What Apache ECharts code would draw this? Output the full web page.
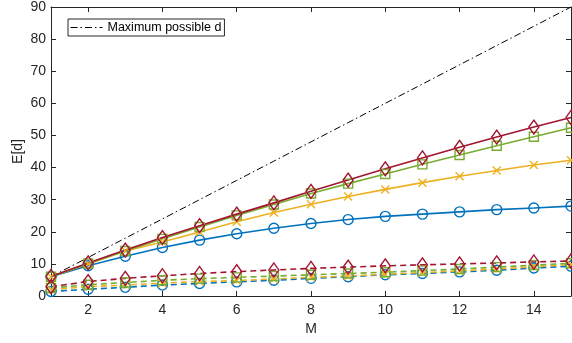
<!DOCTYPE html>
<html>
<head>
<meta charset="utf-8">
<script src="https://cdn.jsdelivr.net/npm/echarts@6/dist/echarts.min.js"></script>
<style>
  html, body { margin: 0; padding: 0; background: #ffffff; }
  #chart { width: 572px; height: 343px; }
</style>
</head>
<body>
<div id="chart"></div>
<script>
// Number of antennas / candidates M along the x axis
const mValues = [1, 2, 3, 4, 5, 6, 7, 8, 9, 10, 11, 12, 13, 14, 15];

// Upper bound on d
const maxPossibleD = [6, 12, 18, 24, 30, 36, 42, 48, 54, 60, 66, 72, 78, 84, 90];

// Solid curves
const solidBlue   = [6.0, 9.4, 12.4, 15.1, 17.4, 19.4, 21.1, 22.6, 23.8, 24.8, 25.5, 26.2, 26.9, 27.4, 28.0];
const solidYellow = [6.0, 10.0, 14.0, 16.8, 19.9, 23.1, 26.0, 28.6, 31.0, 33.2, 35.3, 37.3, 39.1, 40.8, 42.3];
const solidGreen  = [6.0, 10.1, 14.0, 17.8, 21.5, 25.1, 28.5, 31.9, 35.0, 38.0, 41.0, 43.9, 46.8, 49.6, 52.4];
const solidRed    = [6.1, 10.3, 14.3, 18.2, 21.9, 25.5, 29.0, 32.6, 36.1, 39.6, 43.0, 46.3, 49.5, 52.6, 55.6];

// Dashed curves
const dashedBlue   = [1.4, 2.1, 2.7, 3.4, 3.9, 4.4, 4.9, 5.5, 6.0, 6.6, 7.0, 7.5, 8.0, 8.7, 9.3];
const dashedYellow = [2.0, 2.9, 3.4, 4.0, 4.5, 4.8, 5.3, 5.8, 6.2, 6.8, 7.3, 7.8, 8.4, 9.1, 9.8];
const dashedGreen  = [2.5, 3.5, 4.2, 4.9, 5.4, 5.8, 6.2, 6.6, 7.0, 7.4, 7.9, 8.4, 9.0, 9.6, 10.2];
const dashedRed    = [2.9, 4.5, 5.5, 6.3, 7.0, 7.6, 8.1, 8.6, 9.0, 9.4, 9.7, 10.0, 10.3, 10.6, 10.9];

// Axis tick labels
const xTicks = [2, 4, 6, 8, 10, 12, 14];
const yTicks = [0, 10, 20, 30, 40, 50, 60, 70, 80, 90];

const AXIS_COLOR = '#262626';
const FONT = '"Liberation Sans", Arial, Helvetica, sans-serif';

const BLUE = '#0072BD';
const YELLOW = '#EDB120';
const GREEN = '#77AC30';
const RED = '#A2142F';

const CROSS = 'path://M0,0L10,10M0,10L10,0';
const DASH_DOT = [7, 3, 1.5, 3];

function pairs(ys) {
  return mValues.map((m, i) => [m, ys[i]]);
}

function curve(ys, color, symbol, size, dashed) {
  return {
    type: 'line',
    data: pairs(ys),
    symbol: symbol,
    symbolSize: size,
    showAllSymbol: true,
    clip: false,
    lineStyle: { color: color, width: 1.6, type: dashed ? [6, 4] : 'solid' },
    itemStyle: { color: 'rgba(0,0,0,0)', borderColor: color, borderWidth: 1.4 },
    emphasis: { disabled: true },
    animation: false
  };
}

const chart = echarts.init(document.getElementById('chart'), null, { renderer: 'canvas' });

chart.setOption({
  backgroundColor: '#ffffff',
  animation: false,
  grid: { left: 51, right: 1, top: 7, bottom: 47, containLabel: false },
  legend: {
    data: [{
      name: 'Maximum possible d',
      itemStyle: { opacity: 0 },
      lineStyle: { color: '#000000', width: 1, type: DASH_DOT, opacity: 1 }
    }],
    left: 68,
    top: 19,
    orient: 'vertical',
    backgroundColor: '#ffffff',
    borderColor: AXIS_COLOR,
    borderWidth: 1,
    padding: [2, 3, 2, 2],
    itemWidth: 32,
    itemHeight: 14,
    textStyle: { fontFamily: FONT, fontSize: 12.5, color: '#000000' },
    selectedMode: false
  },
  xAxis: [
    {
      type: 'value',
      min: 1,
      max: 15,
      name: 'M',
      nameLocation: 'middle',
      nameGap: 26,
      nameTextStyle: { fontFamily: FONT, fontSize: 14, color: AXIS_COLOR },
      axisLine: { show: true, onZero: false, lineStyle: { color: AXIS_COLOR, width: 1 } },
      axisTick: { show: true, inside: true, length: 5, customValues: xTicks, lineStyle: { color: AXIS_COLOR } },
      axisLabel: { show: true, customValues: xTicks, margin: 7, fontFamily: FONT, fontSize: 14, color: AXIS_COLOR },
      splitLine: { show: false }
    },
    {
      type: 'value',
      position: 'top',
      min: 1,
      max: 15,
      axisLine: { show: true, onZero: false, lineStyle: { color: AXIS_COLOR, width: 1 } },
      axisTick: { show: true, inside: true, length: 5, customValues: xTicks, lineStyle: { color: AXIS_COLOR } },
      axisLabel: { show: false },
      splitLine: { show: false }
    }
  ],
  yAxis: [
    {
      type: 'value',
      min: 0,
      max: 90,
      interval: 10,
      name: 'E[d]',
      nameLocation: 'middle',
      nameGap: 26,
      nameMoveOverlap: false,
      nameTextStyle: { fontFamily: FONT, fontSize: 14, color: AXIS_COLOR },
      axisLine: { show: true, onZero: false, lineStyle: { color: AXIS_COLOR, width: 1 } },
      axisTick: { show: true, inside: true, length: 5, customValues: yTicks, lineStyle: { color: AXIS_COLOR } },
      axisLabel: { show: true, customValues: yTicks, margin: 5, fontFamily: FONT, fontSize: 14, color: AXIS_COLOR },
      splitLine: { show: false }
    },
    {
      type: 'value',
      position: 'right',
      min: 0,
      max: 90,
      interval: 10,
      axisLine: { show: true, onZero: false, lineStyle: { color: AXIS_COLOR, width: 1 } },
      axisTick: { show: true, inside: true, length: 5, customValues: yTicks, lineStyle: { color: AXIS_COLOR } },
      axisLabel: { show: false },
      splitLine: { show: false }
    }
  ],
  series: [
    {
      name: 'Maximum possible d',
      type: 'line',
      data: pairs(maxPossibleD),
      showSymbol: false,
      symbol: 'circle',
      lineStyle: { color: '#000000', width: 1, type: DASH_DOT },
      itemStyle: { color: '#000000' },
      emphasis: { disabled: true },
      z: 1
    },
    curve(solidBlue, BLUE, 'circle', 10, false),
    curve(solidYellow, YELLOW, CROSS, 8, false),
    curve(solidGreen, GREEN, 'rect', 9, false),
    curve(solidRed, RED, 'diamond', [10, 14], false),
    curve(dashedBlue, BLUE, 'circle', 10, true),
    curve(dashedYellow, YELLOW, CROSS, 8, true),
    curve(dashedGreen, GREEN, 'rect', 9, true),
    curve(dashedRed, RED, 'diamond', [10, 14], true)
  ]
});
</script>
</body>
</html>
